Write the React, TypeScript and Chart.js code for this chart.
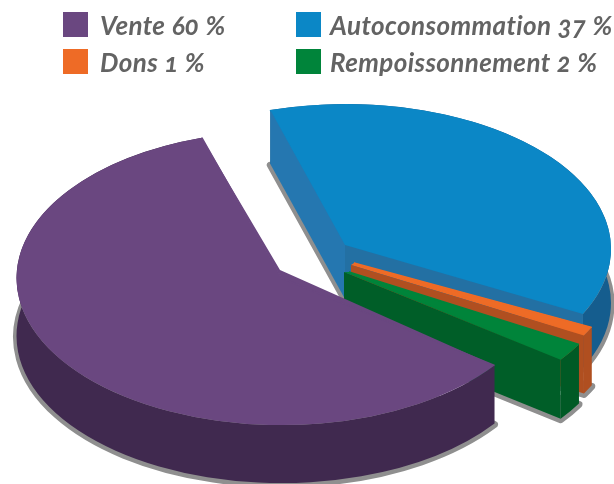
import React, { useEffect, useRef } from "react";
import { Chart, registerables } from "chart.js";

Chart.register(...registerables);

const categories = ["Vente", "Autoconsommation", "Dons", "Rempoissonnement"];
const shares = [60, 37, 1, 2];
const topColors = ["#6a4780", "#0b87c6", "#ee6b26", "#00843a"];
const wallColors = ["#40294f", "#155d8e", "#b04f20", "#005a25"];
const startFaceColors = ["#40294f", "#2577b0", "#b04f20", "#005e28"];
const endFaceColors = ["#40294f", "#2370a3", "#b04f20", "#005e28"];

// Back-to-front painting order of the slices
const drawOrder = [1, 2, 3, 0];
// Where each slice sits on the page: ellipse centre, true apex, tilt, thickness, small perspective turn (degrees)
const centres = [[281.5, 278], [346, 249], [354, 263], [349, 272]];
const apexes = [[280, 270], [345, 245], [351, 265], [344, 272]];
const tilts = [0.555, 0.547, 0.55, 0.55];
const depths = [58, 54, 58, 59];
const turns = [0, 0.9, 0.5, 0.5];
const SHADOW = "#8f8f8f";

const legendRows = [
  { i: 0, left: 63, top: 12, textLeft: 100 },
  { i: 1, left: 296, top: 12, textLeft: 330 },
  { i: 2, left: 63, top: 49, textLeft: 100 },
  { i: 3, left: 296, top: 49, textLeft: 330 },
];

const pie3d = {
  id: "pie3d",
  beforeDatasetDraw(chart: any, args: any) {
    const ctx = chart.ctx as CanvasRenderingContext2D;
    const arcs = args.meta.data;
    for (const i of drawOrder) {
      const arc = arcs[i];
      const [cx, cy] = centres[i];
      const [ax, ay] = apexes[i];
      const k = tilts[i];
      const d = depths[i];
      const r = arc.outerRadius;
      const turn = (turns[i] * Math.PI) / 180;
      const a0 = arc.startAngle + turn;
      const a1 = arc.endAngle + turn;
      const px = (a: number) => cx + r * Math.cos(a);
      const py = (a: number) => cy + r * k * Math.sin(a);

      // shadow
      ctx.save();
      ctx.beginPath();
      ctx.moveTo(ax, ay + d + 1);
      ctx.ellipse(cx, cy + d + 1, r, r * k, 0, a0, a1);
      ctx.closePath();
      ctx.fillStyle = SHADOW;
      ctx.strokeStyle = SHADOW;
      ctx.lineWidth = 7;
      ctx.lineJoin = "round";
      ctx.fill();
      ctx.stroke();
      ctx.restore();

      // outer wall
      ctx.beginPath();
      ctx.ellipse(cx, cy, r, r * k, 0, a0, a1);
      ctx.ellipse(cx, cy + d, r, r * k, 0, a1, a0, true);
      ctx.closePath();
      ctx.fillStyle = wallColors[i];
      ctx.fill();

      // top face, drawn by the library's arc element
      ctx.save();
      ctx.translate(cx, cy);
      ctx.scale(1, k);
      ctx.rotate(turn);
      ctx.translate(-arc.x, -arc.y);
      arc.draw(ctx);
      ctx.restore();

      // move the apex from the ellipse centre to its real place
      ctx.beginPath();
      ctx.moveTo(ax, ay);
      ctx.lineTo(cx, cy);
      ctx.lineTo(px(a0), py(a0));
      ctx.closePath();
      ctx.moveTo(ax, ay);
      ctx.lineTo(cx, cy);
      ctx.lineTo(px(a1), py(a1));
      ctx.closePath();
      ctx.fillStyle = topColors[i];
      ctx.fill();
      // hide the hairline seam between the arc and the apex patch
      ctx.beginPath();
      ctx.moveTo(cx, cy);
      ctx.lineTo(px(a0), py(a0));
      ctx.moveTo(cx, cy);
      ctx.lineTo(px(a1), py(a1));
      ctx.strokeStyle = topColors[i];
      ctx.lineWidth = 1.5;
      ctx.stroke();

      // cut faces which look towards the viewer
      const face = (a: number, color: string) => {
        ctx.beginPath();
        ctx.moveTo(ax, ay);
        ctx.lineTo(px(a), py(a));
        ctx.lineTo(px(a), py(a) + d);
        ctx.lineTo(ax, ay + d);
        ctx.closePath();
        ctx.fillStyle = color;
        ctx.fill();
      };
      if (Math.cos(a0) < 0) face(a0, startFaceColors[i]);
      if (Math.cos(a1) > 0) face(a1, endFaceColors[i]);
    }
    return false;
  },
};

export default function App() {
  const ref = useRef<HTMLCanvasElement | null>(null);
  useEffect(() => {
    const chart = new Chart(ref.current!, {
      type: "pie",
      data: {
        labels: categories,
        datasets: [
          {
            data: shares,
            backgroundColor: topColors,
            borderWidth: 0,
            radius: 265,
            clip: false,
          } as any,
        ],
      },
      options: {
        responsive: false,
        animation: false,
        rotation: 126.5,
        layout: { padding: 0 },
        plugins: { legend: { display: false }, tooltip: { enabled: false } },
      },
      plugins: [pie3d],
    });
    return () => chart.destroy();
  }, []);

  return (
    <div style={{ position: "absolute", left: 0, top: 0, width: 614, height: 484, background: "#fff", overflow: "hidden" }}>
      <canvas ref={ref} width={614} height={484} style={{ position: "absolute", left: 0, top: 0 }} />
      {legendRows.map((row) => (
        <React.Fragment key={row.i}>
          <div style={{ position: "absolute", left: row.left, top: row.top, width: 25, height: 25, background: topColors[row.i] }} />
          <div
            style={{
              position: "absolute",
              left: row.textLeft,
              top: row.top - 2,
              lineHeight: "30px",
              whiteSpace: "nowrap",
              fontFamily: "Lato, sans-serif",
              fontWeight: 700,
              fontStyle: "italic",
              fontSize: 26,
              letterSpacing: 0.4,
              color: "#636363",
              fontVariantNumeric: "oldstyle-nums",
            }}
          >
            {`${categories[row.i]} ${shares[row.i]} %`}
          </div>
        </React.Fragment>
      ))}
    </div>
  );
}
